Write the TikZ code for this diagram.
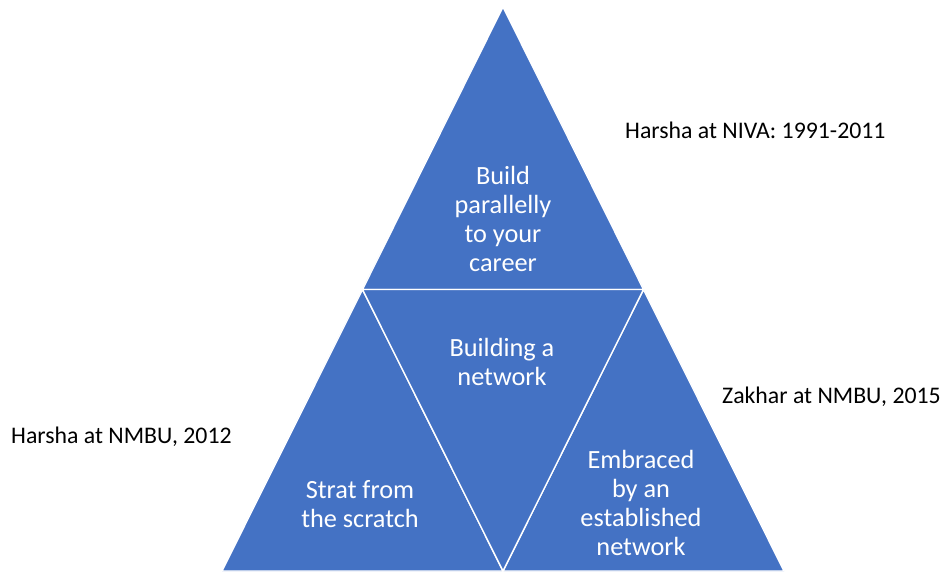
\documentclass[tikz,border=0pt]{standalone}
\usepackage{fontspec}
\setmainfont{Carlito}
\definecolor{offblue}{HTML}{4472C4}
\begin{document}
\begin{tikzpicture}[x=1pt,y=-1pt,
  tri/.style={fill=offblue,draw=white,line width=1.4pt,line join=miter},
  intext/.style={text=white,align=center,font=\fontsize{26.3}{29.3}\selectfont,inner sep=0pt},
  outtext/.style={text=black,align=left,font=\fontsize{23.8}{28}\selectfont,inner sep=0pt}]
\useasboundingbox (0,0) rectangle (945,571);
\coordinate (apex) at (503,7);
\coordinate (bl) at (222,571);
\coordinate (br) at (784,571);
\coordinate (ml) at (362.5,289.5);
\coordinate (mr) at (643.5,289.5);
\coordinate (mb) at (503,571);
\fill[offblue] (apex) -- (bl) -- (br) -- cycle;
\draw[tri] (apex) -- (ml) -- (mr) -- cycle;
\draw[tri] (ml) -- (bl) -- (mb) -- cycle;
\draw[tri] (mr) -- (mb) -- (br) -- cycle;
\draw[tri] (ml) -- (mr) -- (mb) -- cycle;
\node[intext] (top) at (503,219) {Build\\parallelly\\to your\\career};
\node[intext] (mid) at (502,362) {Building a\\network};
\node[intext] (left) at (360,504) {Strat from\\the scratch};
\node[intext] (right) at (641,503) {Embraced\\by an\\established\\network};
\node[outtext,anchor=west] (niva) at (625,130) {Harsha at NIVA: 1991-2011};
\node[outtext,anchor=west] (nmbu) at (11,437) {Harsha at NMBU, 2012};
\node[outtext,anchor=west] (zak) at (722,397) {Zakhar at NMBU, 2015};
\end{tikzpicture}
\end{document}
